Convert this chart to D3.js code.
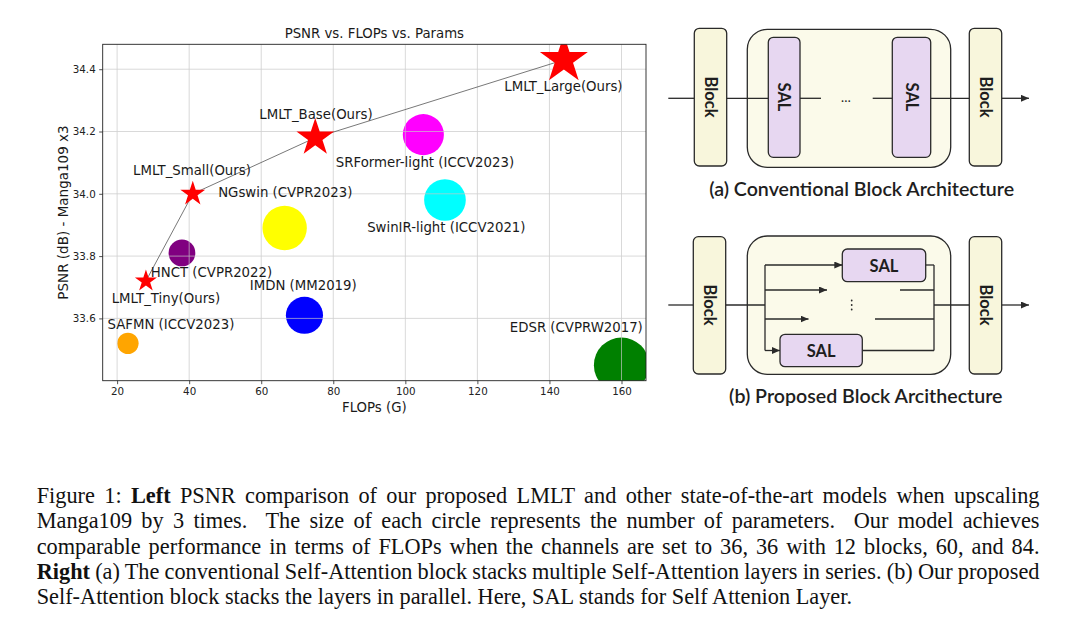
<!DOCTYPE html>
<html>
<head>
<meta charset="utf-8">
<script src="https://cdn.jsdelivr.net/npm/d3@7"></script>
<style>
  html, body { margin: 0; padding: 0; background: #ffffff; }
  svg { display: block; }
</style>
</head>
<body>
<svg id="fig" width="1080" height="633"></svg>
<script>
// ---------------- DATA ----------------
const models = ["LMLT_Tiny(Ours)", "LMLT_Small(Ours)", "LMLT_Base(Ours)", "LMLT_Large(Ours)",
  "SAFMN (ICCV2023)", "HNCT (CVPR2022)", "NGswin (CVPR2023)", "IMDN (MM2019)",
  "SRFormer-light (ICCV2023)", "SwinIR-light (ICCV2021)", "EDSR (CVPRW2017)"];
const flops  = [28, 41, 75, 144, 23, 38, 66.5, 72, 105, 111, 160];
const psnr   = [33.72, 34.00, 34.18, 34.43, 33.52, 33.81, 33.89, 33.61, 34.19, 33.98, 33.45];
const params = [275, 350, 800, 1300, 233, 365, 1007, 703, 861, 886, 1555]; // K
const markerType  = ["star", "star", "star", "star", "circle", "circle", "circle", "circle", "circle", "circle", "circle"];
const markerColor = ["red", "red", "red", "red", "orange", "purple", "yellow", "blue", "magenta", "cyan", "green"];
const oursOrder = ["LMLT_Tiny(Ours)", "LMLT_Small(Ours)", "LMLT_Base(Ours)", "LMLT_Large(Ours)"];
const xTicks = [20, 40, 60, 80, 100, 120, 140, 160];
const yTicks = [33.6, 33.8, 34.0, 34.2, 34.4];
const chartTitle = "PSNR vs. FLOPs vs. Params";
const xLabel = "FLOPs (G)";
const yLabel = "PSNR (dB) - Manga109 x3";

const captionA = "(a) Conventional Block Architecture";
const captionB = "(b) Proposed Block Arcithecture";
const captionLines = [
  [["Figure 1: ", false], ["Left", true], [" PSNR comparison of our proposed LMLT and other state-of-the-art models when upscaling", false]],
  [["Manga109 by 3 times.  The size of each circle represents the number of parameters.  Our model achieves", false]],
  [["comparable performance in terms of FLOPs when the channels are set to 36, 36 with 12 blocks, 60, and 84.", false]],
  [["Right", true], [" (a) The conventional Self-Attention block stacks multiple Self-Attention layers in series. (b) Our proposed", false]],
  [["Self-Attention block stacks the layers in parallel. Here, SAL stands for Self Attenion Layer.", false]]
];

// ---------------- LAYOUT ----------------
const svg = d3.select("#fig");
svg.append("rect").attr("width", 1080).attr("height", 633).attr("fill", "#fff");

const plot = { left: 102.7, right: 646, top: 44.3, bottom: 380.7 };
const x = d3.scaleLinear().domain([16.0, 166.8]).range([plot.left, plot.right]);
const y = d3.scaleLinear().domain([33.40, 34.48]).range([plot.bottom, plot.top]);
const rScale = d3.scaleSqrt().domain([0, 1555]).range([0, 27.6]);

// label offsets (px) from marker centre to label start / baseline
const labelOffset = [[-34.3, 22], [-59.7, -18.7], [-55.9, -18.8], [-59.6, 31], [-20.4, -14.7],
  [-31.2, 23.7], [-66.5, -31], [-54.7, -25], [-87.5, 32], [-77.8, 31.5], [-111.7, -33]];

const FONT = "'DejaVu Sans', sans-serif";
const pts = models.map((m, i) => ({ name: m, fx: flops[i], py: psnr[i], p: params[i], type: markerType[i], color: markerColor[i], off: labelOffset[i] }));

svg.append("defs").append("clipPath").attr("id", "plotclip")
  .append("rect").attr("x", plot.left).attr("y", plot.top)
  .attr("width", plot.right - plot.left).attr("height", plot.bottom - plot.top);

const chart = svg.append("g");
const clipped = chart.append("g").attr("clip-path", "url(#plotclip)");

// circles
clipped.append("g").selectAll("circle").data(pts.filter(d => d.type === "circle")).join("circle")
  .attr("cx", d => x(d.fx)).attr("cy", d => y(d.py)).attr("r", d => rScale(d.p))
  .attr("fill", d => d.color);

// grid
const grid = clipped.append("g").attr("stroke", "#c8c8c8").attr("stroke-width", 0.8).attr("opacity", 0.85);
grid.selectAll(".gx").data(xTicks).join("line").attr("class", "gx")
  .attr("x1", d => x(d)).attr("x2", d => x(d)).attr("y1", plot.top).attr("y2", plot.bottom);
grid.selectAll(".gy").data(yTicks).join("line").attr("class", "gy")
  .attr("y1", d => y(d)).attr("y2", d => y(d)).attr("x1", plot.left).attr("x2", plot.right);

// connecting line
const ours = oursOrder.map(n => pts.find(d => d.name === n));
clipped.append("path").datum(ours)
  .attr("d", d3.line().x(d => x(d.fx)).y(d => y(d.py)))
  .attr("fill", "none").attr("stroke", "#555").attr("stroke-width", 0.8);

// stars
function starPath(R) {
  const r = R * 0.381966;
  const p = [];
  for (let i = 0; i < 10; i++) {
    const a = -Math.PI / 2 + i * Math.PI / 5;
    const rr = i % 2 ? r : R;
    p.push([rr * Math.cos(a), rr * Math.sin(a)]);
  }
  return "M" + p.map(q => q[0].toFixed(2) + "," + q[1].toFixed(2)).join("L") + "Z";
}
clipped.append("g").selectAll("path").data(pts.filter(d => d.type === "star")).join("path")
  .attr("transform", d => `translate(${x(d.fx)},${y(d.py)})`)
  .attr("d", d => starPath(rScale(d.p)))
  .attr("fill", d => d.color);

// axes
const xAxis = chart.append("g").attr("transform", `translate(0,${plot.bottom})`)
  .call(d3.axisBottom(x).tickValues(xTicks).tickSize(3.5).tickPadding(3.5).tickSizeOuter(0));
const yAxis = chart.append("g").attr("transform", `translate(${plot.left},0)`)
  .call(d3.axisLeft(y).tickValues(yTicks).tickFormat(d3.format(".1f")).tickSize(3.5).tickPadding(3.5).tickSizeOuter(0));
[xAxis, yAxis].forEach(a => {
  a.select(".domain").remove();
  a.selectAll(".tick line").attr("stroke", "#222").attr("stroke-width", 0.8);
  a.selectAll(".tick text").attr("fill", "#222").style("font-family", FONT).style("font-size", "10.3px");
});
// spines
chart.append("rect").attr("x", plot.left).attr("y", plot.top)
  .attr("width", plot.right - plot.left).attr("height", plot.bottom - plot.top)
  .attr("fill", "none").attr("stroke", "#222").attr("stroke-width", 0.9);

// labels
chart.append("g").selectAll("text").data(pts).join("text")
  .attr("x", d => x(d.fx) + d.off[0]).attr("y", d => y(d.py) + d.off[1])
  .attr("fill", "#1a1a1a").style("font-family", FONT).style("font-size", "13.3px")
  .text(d => d.name);

chart.append("text").attr("x", (plot.left + plot.right) / 2).attr("y", 38.3)
  .attr("text-anchor", "middle").attr("fill", "#1a1a1a").style("font-family", FONT).style("font-size", "13.3px")
  .text(chartTitle);
chart.append("text").attr("x", (plot.left + plot.right) / 2).attr("y", 411.7)
  .attr("text-anchor", "middle").attr("fill", "#1a1a1a").style("font-family", FONT).style("font-size", "13.3px")
  .text(xLabel);
chart.append("text").attr("transform", `translate(68,${(plot.top + plot.bottom) / 2}) rotate(-90)`)
  .attr("text-anchor", "middle").attr("fill", "#1a1a1a").style("font-family", FONT).style("font-size", "13.5px")
  .text(yLabel);

// ---------------- DIAGRAMS ----------------
const STROKE = "#2a2a2a";
const DFONT = "Lato, 'Noto Sans', sans-serif";
const blockFill = "#f8f6dc", contFill = "#fbfaea", salFill = "#e7d7f1";
const defs = svg.select("defs");
defs.append("marker").attr("id", "arrow").attr("viewBox", "0 0 8 7")
  .attr("refX", 8).attr("refY", 3.5).attr("markerWidth", 8).attr("markerHeight", 7)
  .attr("markerUnits", "userSpaceOnUse").attr("orient", "auto")
  .append("path").attr("d", "M0,0L8,3.5L0,7Z").attr("fill", STROKE);

const dg = svg.append("g");
function box(x0, y0, x1, y1, rx, fill) {
  dg.append("rect").attr("x", x0).attr("y", y0).attr("width", x1 - x0).attr("height", y1 - y0)
    .attr("rx", rx).attr("fill", fill).attr("stroke", STROKE).attr("stroke-width", 1.3);
}
function seg(x0, y0, x1, y1, arrow) {
  const l = dg.append("line").attr("x1", x0).attr("y1", y0).attr("x2", x1).attr("y2", y1)
    .attr("stroke", STROKE).attr("stroke-width", 1.3);
  if (arrow) l.attr("marker-end", "url(#arrow)");
}
function vtext(cx, cy, t, size) {
  dg.append("text").attr("transform", `translate(${cx},${cy}) rotate(90)`)
    .attr("text-anchor", "middle").attr("dominant-baseline", "central")
    .style("font-family", DFONT).style("font-weight", 700).style("font-size", size + "px")
    .attr("fill", "#1e1e1e").text(t);
}
function htext(cx, cy, t, size, w) {
  dg.append("text").attr("x", cx).attr("y", cy)
    .attr("text-anchor", "middle").attr("dominant-baseline", "central")
    .style("font-family", DFONT).style("font-weight", w || 700).style("font-size", size + "px")
    .attr("fill", "#1e1e1e").text(t);
}

// (a)
const ay = 98.3;
seg(668.3, ay, 694.3, ay);
box(747.3, 29.3, 950.7, 167.3, 20, contFill);
seg(726.7, ay, 768.3, ay);
seg(800, ay, 821, ay);
seg(872.7, ay, 892.3, ay);
seg(930.7, ay, 969.3, ay);
seg(1001.7, ay, 1029, ay, true);
box(694.3, 28.3, 726.7, 166, 5, blockFill);
box(969.3, 28.3, 1001.7, 166, 5, blockFill);
box(768.3, 37.3, 800, 157.3, 5, salFill);
box(892.3, 37.3, 930.7, 157.3, 5, salFill);
vtext(710.5, 97, "Block", 16.5);
vtext(985.5, 97, "Block", 16.5);
vtext(784.2, 97, "SAL", 16.5);
vtext(911.5, 97, "SAL", 16.5);
htext(846, 97, "…", 13, 400);
dg.append("text").attr("x", 861.7).attr("y", 195.7).attr("text-anchor", "middle")
  .style("font-family", DFONT).style("font-weight", 600).style("font-size", "19.6px")
  .attr("fill", "#1e1e1e").text(captionA);

// (b)
const by = 305;
seg(668.3, by, 693.3, by);
box(747.3, 236, 950.7, 374.3, 20, contFill);
seg(725.7, by, 765, by);
seg(765, 265, 765, 350.5);
seg(765, 265, 842.3, 265, true);
seg(765, 290, 827, 290, true);
seg(765, 319, 808.5, 319, true);
seg(765, 350.5, 780, 350.5, true);
seg(925.7, 265, 934, 265);
seg(900, 290, 934, 290);
seg(875, 319, 934, 319);
seg(862.3, 350.5, 934, 350.5);
seg(934, 265, 934, 350.5);
seg(934, by, 969.3, by);
seg(1001.7, by, 1029, by, true);
box(693.3, 236.7, 725.7, 374, 5, blockFill);
box(969.3, 236.7, 1001.7, 374, 5, blockFill);
box(842.3, 249, 925.7, 281.7, 5, salFill);
box(780, 334.3, 862.3, 366.7, 5, salFill);
vtext(709.5, 305, "Block", 16.5);
vtext(985.5, 305, "Block", 16.5);
htext(884, 265.5, "SAL", 16.5);
htext(821.2, 350.8, "SAL", 16.5);
dg.append("g").selectAll("circle").data([0, 1, 2]).join("circle")
  .attr("cx", 851.7).attr("cy", (d) => 300.5 + d * 4.5).attr("r", 0.9).attr("fill", STROKE);
dg.append("text").attr("x", 865.8).attr("y", 402.7).attr("text-anchor", "middle")
  .style("font-family", DFONT).style("font-weight", 600).style("font-size", "19.6px")
  .attr("fill", "#1e1e1e").text(captionB);

// ---------------- CAPTION ----------------
const capX0 = 36.7, capX1 = 1039.5;
const capG = svg.append("g");
captionLines.forEach((parts, i) => {
  const t = capG.append("text").attr("x", capX0).attr("y", 503 + i * 25.25)
    .attr("fill", "#111").style("font-family", "'Liberation Serif', 'Times New Roman', serif")
    .style("font-size", "22.3px").style("white-space", "pre");
  parts.forEach(([s, b]) => {
    t.append("tspan").style("font-weight", b ? "bold" : "normal").text(s);
  });
  if (i < captionLines.length - 1) {
    const len = t.node().getComputedTextLength();
    const full = parts.map(p => p[0]).join("");
    const nsp = (full.match(/ /g) || []).length;
    t.style("word-spacing", ((capX1 - capX0 - len) / nsp) + "px");
  }
});
</script>
</body>
</html>
